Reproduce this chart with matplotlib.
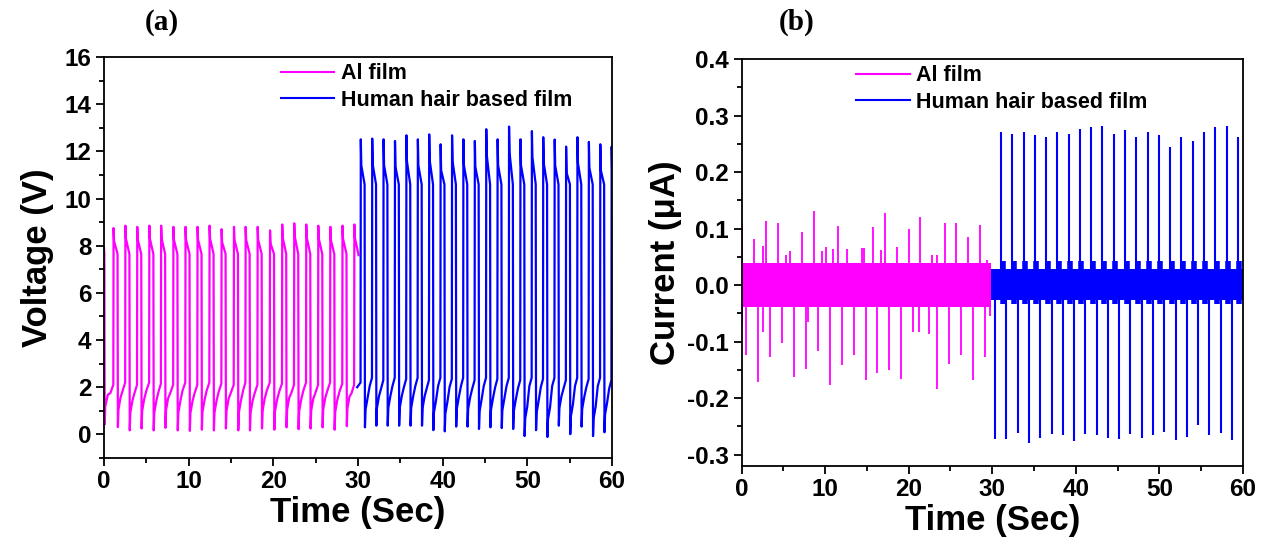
import numpy as np
import matplotlib
matplotlib.use("Agg")
import matplotlib.pyplot as plt
from matplotlib.lines import Line2D
from matplotlib.ticker import MultipleLocator

plt.rcParams['font.family'] = ['Liberation Sans', 'DejaVu Sans']
plt.rcParams['font.weight'] = 'bold'

# ---------------- (a) voltage data ----------------
# rising-edge times (s), peak, trough after the fall, low level before the next rise
al_rise = [1.10, 2.50, 3.90, 5.33, 6.72, 8.17, 9.60, 11.02, 12.44, 13.86, 15.32,
           16.70, 18.12, 19.58, 21.02, 22.44, 23.86, 25.28, 26.70, 28.14, 29.54]
al_peak = [8.75, 8.85, 8.80, 8.85, 8.85, 8.80, 8.80, 8.80, 8.85, 8.70, 8.80,
           8.80, 8.80, 8.65, 8.90, 8.95, 8.90, 8.85, 8.80, 8.85, 8.90]
al_trough = [0.43, 0.31, 0.17, 0.25, 0.17, 0.28, 0.17, 0.15, 0.20, 0.17, 0.25,
             0.17, 0.17, 0.25, 0.20, 0.30, 0.22, 0.25, 0.30, 0.20, 0.35]
al_low_end = [2.10, 2.20, 2.10, 2.20, 2.15, 2.10, 2.20, 2.10, 2.20, 2.15, 2.10,
              2.20, 2.10, 2.20, 2.15, 2.10, 2.20, 2.10, 2.20, 2.15, 2.10]
al_start = 7.9      # value at t = 0
al_plateau = 7.65   # level just before each fall

hh_start_t = 29.90
hh_rise = [30.30, 31.65, 32.99, 34.34, 35.69, 37.04, 38.38, 39.73, 41.08, 42.42,
           43.77, 45.12, 46.46, 47.81, 49.16, 50.51, 51.85, 53.20, 54.55, 55.89,
           57.24, 58.59, 59.93]
hh_peak = [12.51, 12.54, 12.51, 12.44, 12.68, 12.51, 12.72, 12.30, 12.68, 12.51,
           12.44, 12.94, 12.51, 13.05, 12.51, 12.86, 12.60, 12.50, 12.20, 12.60,
           12.40, 12.30, 12.20]
hh_trough = [0.30, 0.37, 0.37, 0.37, 0.37, 0.37, 0.18, 0.13, 0.33, 0.33, 0.23,
             0.30, 0.27, 0.23, -0.07, 0.18, -0.11, 0.37, 0.01, 0.33, -0.07, 0.09]
hh_low_end = [2.20, 2.40, 2.30, 2.40, 2.35, 2.40, 2.30, 2.40, 2.35, 2.40, 2.30,
              2.40, 2.35, 2.40, 2.30, 2.40, 2.35, 2.40, 2.30, 2.40, 2.35, 2.40, 2.30]
hh_plateau = 10.6

# ---------------- (b) current data ----------------
al_pos_t = [0.10, 1.50, 2.90, 4.40, 5.80, 7.20, 8.70, 10.10, 11.50, 12.60, 14.40,
            15.70, 17.20, 18.60, 20.00, 21.40, 22.80, 24.30, 25.70, 27.10, 28.50,
            2.61, 5.32, 9.59, 10.91, 14.66, 16.69, 23.39, 29.41]
al_pos_v = [0.109, 0.081, 0.114, 0.109, 0.060, 0.094, 0.131, 0.067, 0.104, 0.064, 0.065,
            0.103, 0.128, 0.067, 0.100, 0.120, 0.054, 0.110, 0.109, 0.085, 0.107,
            0.070, 0.054, 0.060, 0.063, 0.065, 0.062, 0.054, 0.045]
al_neg_t = [0.10, 0.54, 2.01, 2.61, 3.41, 4.85, 6.32, 7.72, 8.00, 9.10, 10.60, 12.05,
            13.45, 14.85, 16.25, 17.68, 19.12, 20.55, 21.23, 22.43, 23.43, 24.86,
            26.26, 27.73, 29.13, 29.73]
al_neg_v = [-0.069, -0.124, -0.172, -0.083, -0.127, -0.102, -0.163, -0.148, -0.065,
            -0.117, -0.176, -0.142, -0.124, -0.168, -0.156, -0.150, -0.166, -0.083,
            -0.083, -0.086, -0.184, -0.140, -0.124, -0.167, -0.127, -0.054]
al_band = (-0.038, 0.040)
al_span = (0.0, 29.90)

hh_pos_t = [31.05, 32.40, 33.75, 35.10, 36.45, 37.80, 39.14, 40.49, 41.84, 43.19, 44.54,
            45.89, 47.24, 48.59, 49.94, 51.29, 52.63, 53.98, 55.33, 56.68, 58.03, 59.38]
hh_pos_v = [0.270, 0.268, 0.270, 0.265, 0.262, 0.270, 0.268, 0.276, 0.280, 0.282, 0.268,
            0.275, 0.262, 0.270, 0.265, 0.245, 0.262, 0.255, 0.270, 0.280, 0.282, 0.262]
hh_neg_t = [30.35, 31.70, 33.05, 34.40, 35.75, 37.10, 38.44, 39.79, 41.14, 42.49, 43.84,
            45.19, 46.54, 47.89, 49.24, 50.59, 51.93, 53.28, 54.63, 55.98, 57.33, 58.68]
hh_neg_v = [-0.272, -0.272, -0.262, -0.280, -0.271, -0.263, -0.266, -0.276, -0.263, -0.265,
            -0.271, -0.272, -0.263, -0.271, -0.265, -0.260, -0.274, -0.268, -0.248, -0.266,
            -0.262, -0.274]
hh_bump = (-0.034, 0.042)
hh_band = (-0.026, 0.028)
hh_span = (29.85, 60.0)

PINK = '#FF00FF'
BLUE = '#0000FF'


def square_wave(start_t, start_v, rises, peaks, troughs, low_ends, plateau, drop, high_dur):
    # join the read-off levels of each pulse into one polyline
    t = [start_t]
    v = [start_v]
    for k, r in enumerate(rises):
        t += [r, r + 0.03, r + 0.09, r + high_dur]
        v += [low_ends[k], peaks[k], peaks[k] - drop, plateau]
        if k < len(troughs):
            tr = troughs[k]
            le = low_ends[k + 1] if k + 1 < len(low_ends) else low_ends[k]
            t += [r + high_dur + 0.04, r + high_dur + 0.11, r + high_dur + 0.35,
                  r + high_dur + 0.6]
            v += [tr, tr + 0.75, tr + 1.25, le - 0.35]
    return np.array(t), np.array(v)


fig = plt.figure(figsize=(12.7, 5.46), dpi=100)
ax1 = fig.add_axes([104 / 1270, 1 - 458 / 546, 508 / 1270, 401 / 546])
ax2 = fig.add_axes([741.5 / 1270, 1 - 466 / 546, 501.5 / 1270, 407 / 546])

# ---- panel (a)
# initial fall from the plateau at t=0, then Al pulses
t0 = [0.0, 0.04, 0.08, 0.15, 0.45, 0.75]
v0 = [al_start, al_plateau, al_trough[0], al_trough[0] + 0.75, al_trough[0] + 1.25,
      al_low_end[0] - 0.35]
ta, va = square_wave(t0[-1], v0[-1], al_rise, al_peak, al_trough[1:], al_low_end,
                     al_plateau, 0.55, 0.50)
ta = np.concatenate([t0[:-1], ta, [30.05]])
va = np.concatenate([v0[:-1], va, [al_plateau - 0.05]])
ax1.plot(ta, va, color=PINK, lw=1.6)

th, vh = square_wave(hh_start_t, 2.0, hh_rise, hh_peak, hh_trough, hh_low_end,
                     hh_plateau, 1.1, 0.48)
ax1.plot(th, vh, color=BLUE, lw=1.6)

ax1.set_xlim(0, 60)
ax1.set_ylim(-1, 16)
ax1.xaxis.set_major_locator(MultipleLocator(10))
ax1.xaxis.set_minor_locator(MultipleLocator(5))
ax1.yaxis.set_major_locator(MultipleLocator(2))
ax1.yaxis.set_minor_locator(MultipleLocator(1))
ax1.set_xlabel('Time (Sec)', fontsize=25, fontweight='bold', labelpad=2)
ax1.set_ylabel('Voltage (V)', fontsize=25, fontweight='bold', labelpad=8)

# ---- panel (b)
ax2.fill_between(al_span, al_band[0], al_band[1], color=PINK, lw=0)
ax2.vlines(al_pos_t, 0, al_pos_v, color=PINK, lw=1.3)
ax2.vlines(al_neg_t, 0, al_neg_v, color=PINK, lw=1.3)

ax2.fill_between(hh_span, hh_band[0], hh_band[1], color=BLUE, lw=0)
ax2.vlines(np.array(hh_pos_t) + 0.18, hh_bump[0], hh_bump[1], color=BLUE, lw=4)
ax2.vlines(hh_pos_t, 0, hh_pos_v, color=BLUE, lw=1.5)
ax2.vlines(hh_neg_t, 0, hh_neg_v, color=BLUE, lw=1.5)

ax2.set_xlim(0, 60)
ax2.set_ylim(-0.32, 0.4)
ax2.xaxis.set_major_locator(MultipleLocator(10))
ax2.xaxis.set_minor_locator(MultipleLocator(5))
ax2.yaxis.set_major_locator(MultipleLocator(0.1))
ax2.yaxis.set_minor_locator(MultipleLocator(0.05))
ax2.yaxis.set_major_formatter(plt.FuncFormatter(lambda v, p: f'{v:.1f}'))
ax2.set_xlabel('Time (Sec)', fontsize=25, fontweight='bold', labelpad=2)
ax2.set_ylabel('Current (μA)', fontsize=25, fontweight='bold', labelpad=4)

for ax in (ax1, ax2):
    for s in ax.spines.values():
        s.set_linewidth(1.3)
    ax.tick_params(which='major', direction='out', length=6, width=1.3,
                   labelsize=17.5, pad=3)
    ax.tick_params(which='minor', direction='out', length=3.5, width=1.3)
    for lab in ax.get_xticklabels() + ax.get_yticklabels():
        lab.set_fontweight('bold')

handles = [Line2D([], [], color=PINK, lw=1.5), Line2D([], [], color=BLUE, lw=1.5)]
names = ['Al film', 'Human hair based film']
ax1.legend(handles, names, loc='upper left', bbox_to_anchor=(0.335, 1.0),
           frameon=False, handlelength=2.5, handletextpad=0.3,
           labelspacing=0.25, borderaxespad=0.0, borderpad=0.3,
           prop={'weight': 'bold', 'size': 15.5})
ax2.legend(handles, names, loc='upper left', bbox_to_anchor=(0.215, 1.0),
           frameon=False, handlelength=2.5, handletextpad=0.3,
           labelspacing=0.25, borderaxespad=0.0, borderpad=0.3,
           prop={'weight': 'bold', 'size': 15.5})

fig.text(162 / 1270, 1 - 22 / 546, '(a)', family='Liberation Serif', fontweight='bold',
         fontsize=21, ha='center', va='center')
fig.text(797 / 1270, 1 - 22 / 546, '(b)', family='Liberation Serif', fontweight='bold',
         fontsize=21, ha='center', va='center')

fig.savefig('out.png', dpi=100)
